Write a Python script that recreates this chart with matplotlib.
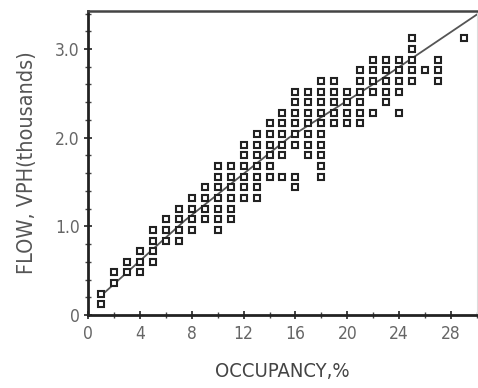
import matplotlib
matplotlib.use('Agg')
import matplotlib.pyplot as plt
from matplotlib.ticker import MultipleLocator

# occupancy (%) and the flow values (thousands VPH) observed at each one
occupancy = [1, 2, 3, 4, 5, 6, 7, 8, 9, 10, 11, 12, 13, 14, 15,
             16, 17, 18, 19, 20, 21, 22, 23, 24, 25, 26, 27, 29]
flow = [
    [0.12, 0.24],
    [0.36, 0.48],
    [0.48, 0.60],
    [0.48, 0.60, 0.72],
    [0.60, 0.72, 0.84, 0.96],
    [0.84, 0.96, 1.08],
    [0.84, 0.96, 1.08, 1.20],
    [0.96, 1.08, 1.20, 1.32],
    [1.08, 1.20, 1.32, 1.44],
    [0.96, 1.08, 1.20, 1.32, 1.44, 1.56, 1.68],
    [1.08, 1.20, 1.32, 1.44, 1.56, 1.68],
    [1.32, 1.44, 1.56, 1.68, 1.80, 1.92],
    [1.32, 1.44, 1.56, 1.68, 1.80, 1.92, 2.04],
    [1.56, 1.68, 1.80, 1.92, 2.04, 2.16],
    [1.56, 1.80, 1.92, 2.04, 2.16, 2.28],
    [1.44, 1.56, 1.92, 2.04, 2.16, 2.28, 2.40, 2.52],
    [1.80, 1.92, 2.04, 2.16, 2.28, 2.40, 2.52],
    [1.56, 1.68, 1.80, 1.92, 2.04, 2.16, 2.28, 2.40, 2.52, 2.64],
    [2.16, 2.28, 2.40, 2.52, 2.64],
    [2.16, 2.28, 2.40, 2.52],
    [2.16, 2.28, 2.40, 2.52, 2.64, 2.76],
    [2.28, 2.52, 2.64, 2.76, 2.88],
    [2.40, 2.52, 2.64, 2.76, 2.88],
    [2.28, 2.52, 2.64, 2.76, 2.88],
    [2.64, 2.76, 2.88, 3.00, 3.12],
    [2.76],
    [2.64, 2.76, 2.88],
    [3.12],
]

# fitted curve
fit_x = [1.1, 7.5, 15.5, 22.5, 30.0]
fit_y = [0.23, 1.07, 2.00, 2.65, 3.39]

plt.rcParams['font.family'] = ['DejaVu Sans']
plt.rcParams['font.stretch'] = 'condensed'

fig = plt.figure(figsize=(4.78, 3.88), dpi=100)
ax = fig.add_axes([0.184, 0.188, 0.814, 0.784])

xs = []
ys = []
for occ, vals in zip(occupancy, flow):
    for v in vals:
        xs.append(occ)
        ys.append(v)

ax.plot(fit_x, fit_y, color='#555555', lw=1.3, zorder=2)
ax.plot(xs, ys, ls='none', marker='s', markersize=4.6, markerfacecolor='white',
        markeredgecolor='#222222', markeredgewidth=1.5, zorder=3)

ax.set_xlim(0, 30)
ax.set_ylim(0, 3.43)
ax.xaxis.set_major_locator(MultipleLocator(4))
ax.xaxis.set_minor_locator(MultipleLocator(2))
ax.yaxis.set_minor_locator(MultipleLocator(0.2))
ax.set_yticks([0, 1, 2, 3])
ax.set_yticklabels(['0', '1.0', '2.0', '3.0'])

ax.tick_params(axis='both', which='major', direction='inout', length=6,
               width=1.3, colors='#333333', labelcolor='#666666', labelsize=12.5)
ax.tick_params(axis='both', which='minor', direction='inout', length=4,
               width=1.0, colors='#444444')
ax.tick_params(axis='x', pad=4)
ax.tick_params(axis='y', pad=3)

for side in ['left', 'bottom']:
    ax.spines[side].set_linewidth(2.0)
    ax.spines[side].set_color('#222222')
ax.spines['top'].set_linewidth(1.8)
ax.spines['top'].set_color('#444444')
ax.spines['right'].set_linewidth(0.8)
ax.spines['right'].set_color('#dddddd')

ax.set_xlabel('OCCUPANCY,%', fontsize=14.5, color='#444444', labelpad=14)
ax.set_ylabel('FLOW, VPH(thousands)', fontsize=15.5, color='#555555', labelpad=13)

fig.savefig('out.png', dpi=100)
